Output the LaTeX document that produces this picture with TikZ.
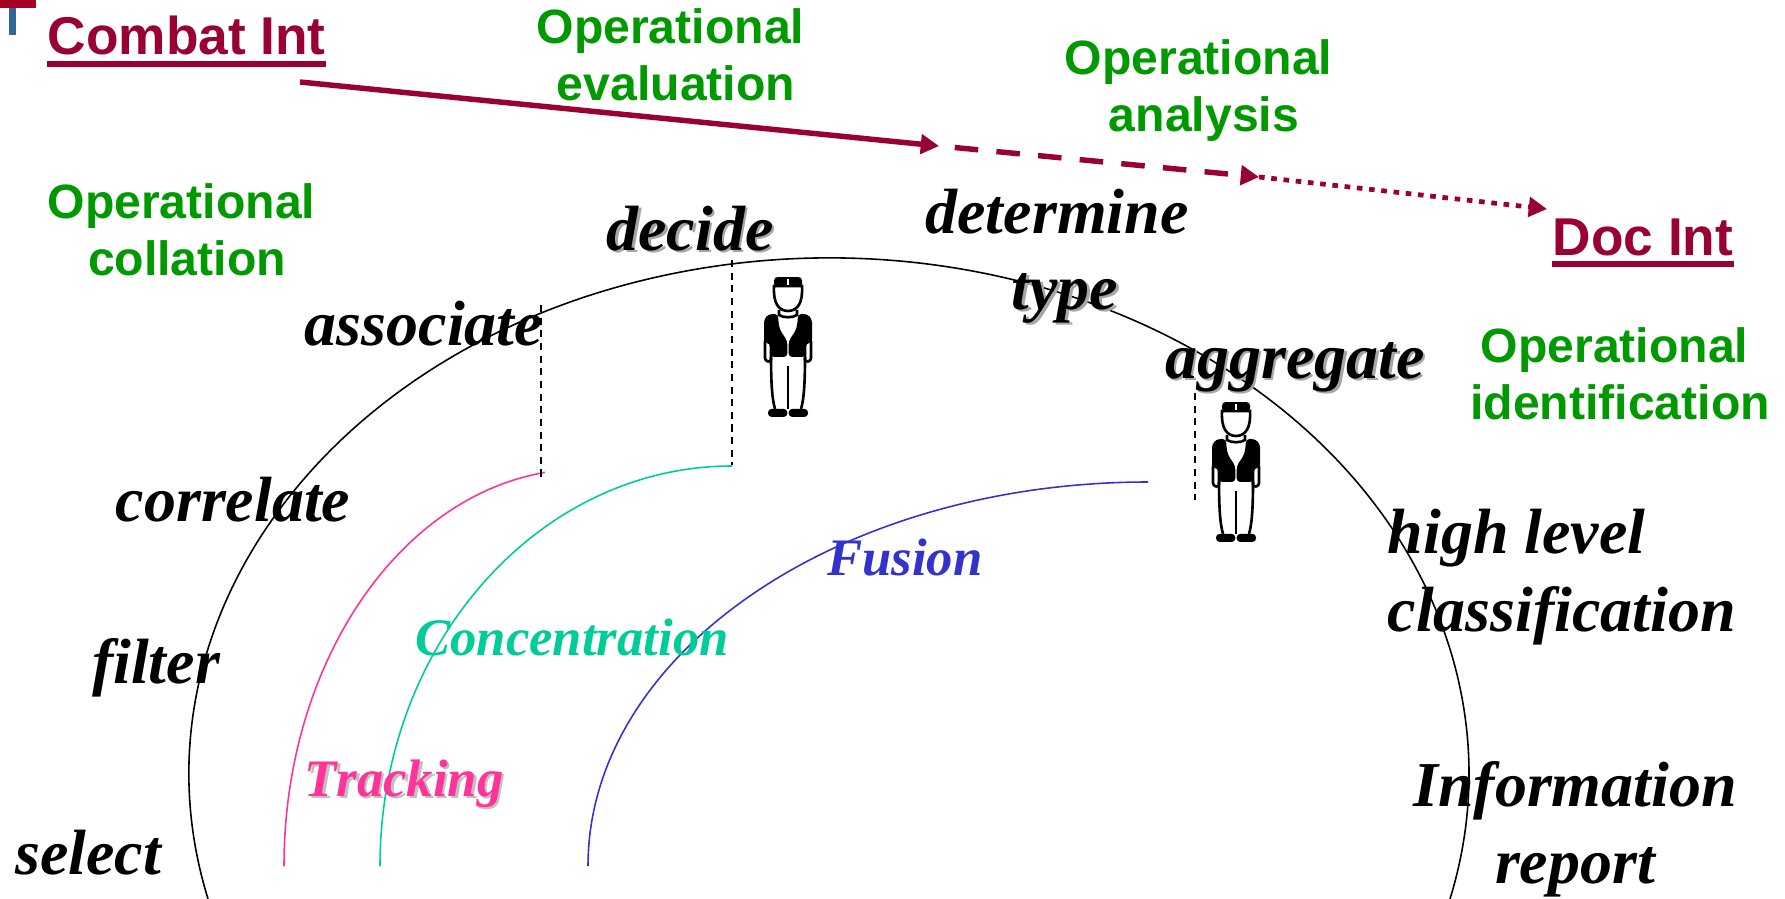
\documentclass[tikz,border=0pt]{standalone}
\usepackage{fontspec}
\setmainfont[Ligatures=NoCommon,Kerning=Off]{Liberation Serif}
\setsansfont[Kerning=Off]{Liberation Sans}
\usetikzlibrary{arrows.meta}
\definecolor{intred}{HTML}{990033}
\definecolor{opgreen}{HTML}{009900}
\definecolor{trackpink}{HTML}{FF3399}
\definecolor{concgreen}{HTML}{00CC99}
\definecolor{fusblue}{HTML}{3333CC}
\definecolor{cornerred}{HTML}{A50021}
\definecolor{cornerblue}{HTML}{336699}
\newcommand{\shadowed}[2]{\makebox[0pt][l]{\kern0.75pt\raisebox{-0.75pt}{\textcolor{#2}{#1}}}#1}
\newcommand{\opword}{Operational\hspace*{3.2pt}}
\tikzset{
  oplabel/.style={text=opgreen, font=\sffamily\bfseries\fontsize{13.7}{16.2}\selectfont, align=center, inner sep=0pt},
  intlabel/.style={text=intred, font=\sffamily\bfseries\fontsize{15.15}{18}\selectfont, anchor=base west, inner sep=0pt},
  intline/.style={draw=intred, line width=1.7pt},
  steplabel/.style={font=\rmfamily\bfseries\itshape\fontsize{18.2}{22}\selectfont, align=center, anchor=base, inner sep=0pt},
  steptwo/.style={font=\rmfamily\bfseries\itshape\fontsize{18.2}{22}\selectfont, inner sep=0pt},
  levellabel/.style={font=\rmfamily\bfseries\itshape\fontsize{15}{18}\selectfont, anchor=base, inner sep=0pt},
  flow/.style={intred, line width=1.55pt, -{Triangle[length=5.2pt,width=5.5pt]}},
  dropline/.style={line width=0.35pt, dash pattern=on 2pt off 1.6pt},
  man/.pic={
    \begin{scope}[x=0.01cm,y=0.01cm,line width=0.75pt]
      %head
      \draw[fill=white] (-14,-9) .. controls (-15,-25) and (-10,-34) .. (0,-34) .. controls (10,-34) and (15,-25) .. (14,-9) -- cycle;
      \fill[rounded corners=1pt] (-14,-10) -- (-14,0) -- (14,0) -- (14,-10) -- (9,-8) -- (-9,-8) -- cycle;
      \draw[white, line width=0.35pt] (0,-2) -- (0,-8);
      \draw (-9,-33) -- (-9,-38) .. controls (-5,-41) and (5,-41) .. (9,-38) -- (9,-33);
      %jacket
      \draw[fill=white, rounded corners=0.8pt] (-23,-62) -- (-23,-84) -- (-17,-85) -- (-17,-62) -- cycle;
      \draw[fill=white, rounded corners=0.8pt] (23,-62) -- (23,-84) -- (17,-85) -- (17,-62) -- cycle;
      \fill[rounded corners=1pt] (-24,-66) -- (-24,-42) -- (-19,-37) -- (-10,-37) -- (-9.5,-46) -- (-8,-53) -- (-0.7,-64) -- (-0.7,-80) -- (-17.5,-80) -- (-18,-66) -- cycle;
      \fill[rounded corners=1pt] (24,-66) -- (24,-42) -- (19,-37) -- (10,-37) -- (9.5,-46) -- (8,-53) -- (0.7,-64) -- (0.7,-80) -- (17.5,-80) -- (18,-66) -- cycle;
      %legs
      \draw (-17,-80) .. controls (-17,-105) and (-16,-122) .. (-13,-132);
      \draw (17,-80) .. controls (17,-105) and (16,-122) .. (13,-132);
      \draw (0,-89) -- (0,-132);
      \fill[rounded corners=1pt] (-20,-140) -- (-20,-132) -- (-0.7,-132) -- (-0.7,-140) -- cycle;
      \fill[rounded corners=1pt] (20,-140) -- (20,-132) -- (0.7,-132) -- (0.7,-140) -- cycle;
    \end{scope}
  }
}
\begin{document}
\begin{tikzpicture}
    \useasboundingbox (0,0) rectangle (17.85,-8.98);
    %corner mark
    \fill[fill=cornerred] (0,0) rectangle (0.36,-0.08);
    \fill[fill=cornerblue] (0.09,-0.08) rectangle (0.16,-0.35);
    %arcs
    \draw[black, line width=0.45pt] (8.29,-7.74) ++(194:6.4 and 5.16) arc[start angle=194, end angle=-14, x radius=6.4, y radius=5.16];
    \draw[trackpink, line width=0.45pt] (5.84,-8.66) ++(180:3.0 and 3.97) arc[start angle=180, end angle=97.5, x radius=3.0, y radius=3.97];
    \draw[concgreen, line width=0.45pt] (7.32,-8.66) ++(180:3.52 and 4.0) arc[start angle=180, end angle=90, x radius=3.52, y radius=4.0];
    \draw[fusblue, line width=0.45pt] (11.48,-8.66) ++(180:5.6 and 3.84) arc[start angle=180, end angle=90, x radius=5.6, y radius=3.84];
    %men
    \pic at (7.88,-2.77) {man};
    \pic at (12.36,-4.02) {man};
    %top labels
    \node[intlabel] (combat) at (0.47,-0.55) {Combat Int};
    \node[intlabel] (doc) at (15.52,-2.55) {Doc Int};
    \draw[intline] ([yshift=-0.09cm]combat.base west) -- ([yshift=-0.09cm]combat.base east);
    \draw[intline] ([yshift=-0.09cm]doc.base west) -- ([yshift=-0.09cm]doc.base east);
    \node[oplabel] (evaluation) at (6.76,-0.55) {\opword\\evaluation};
    \node[oplabel] (analysis) at (12.04,-0.91) {\opword\\analysis};
    \node[oplabel] (collation) at (1.87,-2.30) {\opword\\collation};
    \node[oplabel] (identification) at (16.20,-3.74) {\opword\\identification};
    %steps
    \node[steplabel] (associate) at (4.24,-3.45) {associate};
    \node[steplabel] (decide) at (6.90,-2.50) {\shadowed{decide}{gray!70}};
    \node[steplabel] (determine) at (10.57,-2.33) {determine};
    \node[steplabel] (type) at (10.65,-3.09) {\shadowed{type}{gray!70}};
    \node[steplabel] (aggregate) at (12.95,-3.78) {\shadowed{aggregate}{gray!70}};
    \node[steplabel] (correlate) at (2.33,-5.21) {correlate};
    \node[steplabel] (filter) at (1.56,-6.83) {filter};
    \node[steplabel] (select) at (0.88,-8.74) {select};
    \node[steptwo, align=left, anchor=west] (classification) at (13.87,-5.77) {high level\\classification};
    \node[steptwo, align=center] (report) at (15.75,-8.29) {Information\\report};
    %levels
    \node[levellabel, text=trackpink] (tracking) at (4.04,-7.96) {\shadowed{Tracking}{gray!50}};
    \node[levellabel, text=concgreen] (concentration) at (5.72,-6.55) {Concentration};
    \node[levellabel, text=fusblue] (fusion) at (9.05,-5.75) {Fusion};
    %drops
    \coordinate (assoctop) at (5.41,-3.05);
    \coordinate (assocend) at (5.41,-4.80);
    \coordinate (decidetop) at (7.32,-2.60);
    \coordinate (decideend) at (7.32,-4.65);
    \coordinate (aggtop) at (11.95,-3.93);
    \coordinate (aggend) at (11.95,-5.00);
    \draw[dropline] (assoctop) -- (assocend);
    \draw[dropline] (decidetop) -- (decideend);
    \draw[dropline] (aggtop) -- (aggend);
    %flow
    \coordinate (flowstart) at (3.00,-0.82);
    \coordinate (flowa) at (9.39,-1.46);
    \coordinate (flowb) at (12.59,-1.77);
    \coordinate (flowc) at (15.47,-2.09);
    \path
        (flowstart) edge[flow] (flowa)
        (flowa) edge[flow, dash pattern=on 6.7pt off 5.2pt, dash phase=7.4pt] (flowb)
        (flowb) edge[flow, line width=1.35pt, dash pattern=on 1.6pt off 1.9pt] (flowc);
\end{tikzpicture}
\end{document}
